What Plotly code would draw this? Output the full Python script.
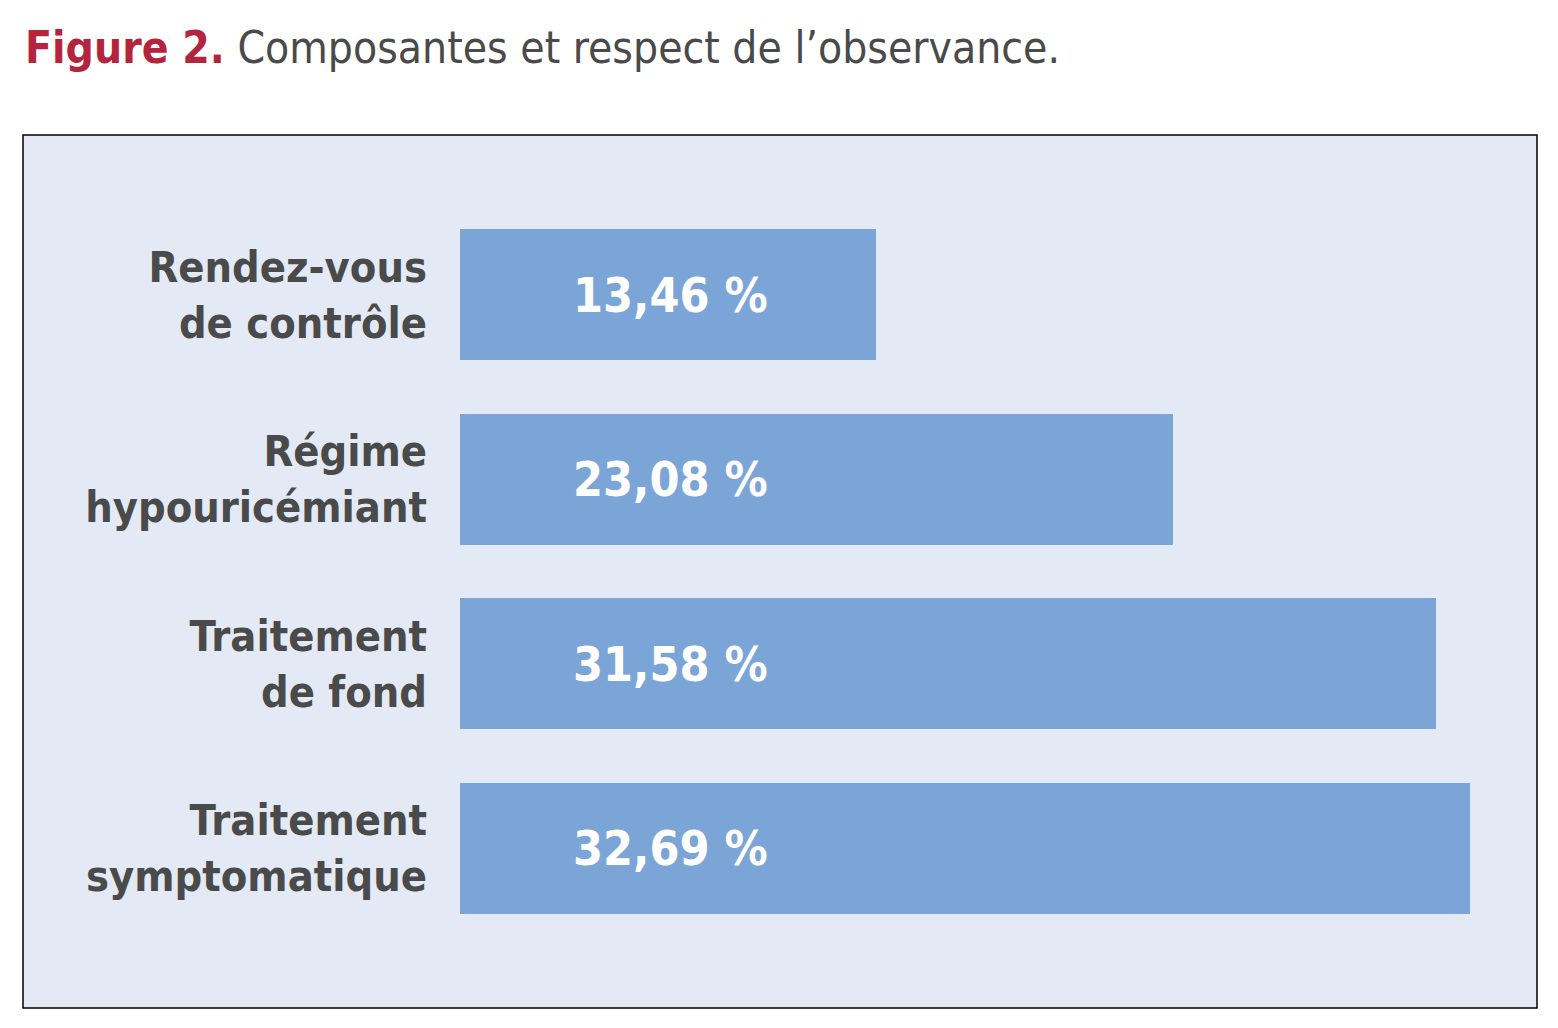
import plotly.graph_objects as go

categories = ["Rendez-vous<br>de contrôle", "Régime<br>hypouricémiant",
              "Traitement<br>de fond", "Traitement<br>symptomatique"]
values = [13.46, 23.08, 31.58, 32.69]
value_labels = ["13,46 %", "23,08 %", "31,58 %", "32,69 %"]

OFF = 8  # page body margin
W, H = 1558 - OFF, 1028 - OFF
L, R, T, B = 460 - OFF, 21, 135 - OFF, 20
xmax = 34.85
NARROW = "DejaVu Sans Condensed, Liberation Sans Narrow, Roboto, sans-serif"

fig = go.Figure()
fig.add_trace(go.Bar(
    y=categories, x=values, orientation="h",
    marker=dict(color="#7BA5D7", line=dict(width=0)),
    width=0.71, hoverinfo="skip", showlegend=False,
))

for c, lab in zip(categories, value_labels):
    fig.add_annotation(x=3.6, y=c, xref="x", yref="y", text=f"<b>{lab}</b>",
                       showarrow=False, xanchor="left", yanchor="middle",
                       font=dict(family=NARROW, size=48, color="white"))

fig.add_shape(type="rect", xref="paper", yref="paper",
              x0=(23 - 460) / (W - L - R), x1=1, y0=0, y1=1,
              fillcolor="#E4EAF5", line=dict(color="black", width=1.5), layer="below")

fig.update_layout(
    width=W, height=H,
    margin=dict(l=L, r=R, t=T, b=B),
    paper_bgcolor="white", plot_bgcolor="rgba(0,0,0,0)",
    title=dict(
        text="<b><span style='color:#B5243D'>Figure 2.</span></b> Composantes et respect de l’observance.",
        xref="container", yref="container", x=(25 - OFF) / W, xanchor="left",
        y=1 - (48 - OFF) / H, yanchor="middle",
        font=dict(family=NARROW, size=44, color="#4A4A4A"),
    ),
    xaxis=dict(range=[0, xmax], visible=False, showgrid=False, zeroline=False),
    yaxis=dict(range=[3.867, -0.867], showgrid=False, zeroline=False,
               ticks="", ticklabelstandoff=32,
               tickfont=dict(family=NARROW, size=43, color="#4A4A4A"),
               showline=False),
    bargap=0,
)
fig.update_yaxes(tickprefix="<b>", ticksuffix="</b>")

fig.write_html("out.html")
